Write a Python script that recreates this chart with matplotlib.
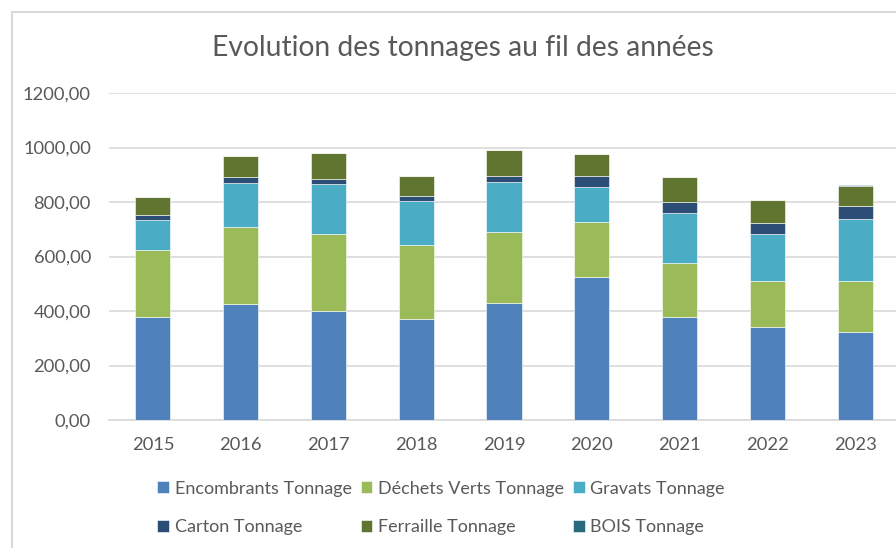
import matplotlib.pyplot as plt
import numpy as np
from matplotlib.patches import Rectangle
from matplotlib.ticker import FuncFormatter

plt.rcParams['font.family'] = ['Lato', 'DejaVu Sans']

# données (tonnes)
annees = ['2015', '2016', '2017', '2018', '2019', '2020', '2021', '2022', '2023']
encombrants = [378, 425, 400, 371, 429, 525, 378, 340, 322]
dechets_verts = [246, 284, 281, 271, 260, 203, 199, 169, 187]
gravats = [110, 160, 184, 162, 183, 128, 181, 172, 230]
carton = [17, 23, 19, 19, 23, 39, 42, 42, 46]
ferraille = [67, 78, 96, 72, 96, 81, 92, 84, 74]
bois = [0, 0, 0, 0, 0, 0, 0, 0, 3]

series = [
    ('Encombrants Tonnage', encombrants, '#4F81BD'),
    ('Déchets Verts Tonnage', dechets_verts, '#9BBB59'),
    ('Gravats Tonnage', gravats, '#4BACC6'),
    ('Carton Tonnage', carton, '#2C4D75'),
    ('Ferraille Tonnage', ferraille, '#5F7530'),
    ('BOIS Tonnage', bois, '#276A7C'),
]

W, H = 896, 548
fig = plt.figure(figsize=(W / 100, H / 100), dpi=100, facecolor='white')

# cadre gris clair du graphique Excel
fig.patches.append(Rectangle((12 / W, -0.1), 1.2, 1 - 12 / H + 0.1,
                             transform=fig.transFigure, fill=False,
                             edgecolor='#D9D9D9', linewidth=1.5))

ax = fig.add_axes([109 / W, 1 - 420 / H, 790 / W, (420 - 93) / H])

x = np.arange(len(annees))
bottom = np.zeros(len(annees))
handles = []
for label, vals, color in series:
    b = ax.bar(x, vals, width=0.4, bottom=bottom, color=color, label=label,
               edgecolor='#FFFFFF', linewidth=0.4, zorder=3)
    handles.append(b)
    bottom += np.array(vals)

ax.set_ylim(0, 1200)
ax.set_xlim(-0.5, 8.5)
ax.set_yticks(np.arange(0, 1201, 200))
ax.yaxis.set_major_formatter(FuncFormatter(lambda v, p: f'{v:.2f}'.replace('.', ',')))
ax.set_xticks(x)
ax.set_xticklabels(annees)
ax.grid(axis='y', color='#D9D9D9', linewidth=1.2, zorder=0)
for s in ['top', 'right', 'left']:
    ax.spines[s].set_visible(False)
ax.spines['bottom'].set_color('#D9D9D9')
ax.spines['bottom'].set_linewidth(1.2)
ax.tick_params(axis='both', length=0, labelsize=13.2, labelcolor='#595959')
ax.tick_params(axis='y', pad=13)
ax.tick_params(axis='x', pad=12)

fig.text(463 / W, 1 - 48 / H, 'Evolution des tonnages au fil des années',
         ha='center', va='center', fontsize=20.3, color='#595959')

# ordre ligne par ligne comme dans Excel
order = [0, 3, 1, 4, 2, 5]
leg = fig.legend([handles[i] for i in order], [series[i][0] for i in order],
                 loc='center', bbox_to_anchor=(441 / W, 1 - 508 / H), ncol=3,
                 frameon=False, fontsize=13, handlelength=0.65, handleheight=0.65,
                 handletextpad=0.3, columnspacing=0.5, labelspacing=1.25)
for t in leg.get_texts():
    t.set_color('#595959')

fig.savefig('out.png', dpi=100, facecolor='white')
